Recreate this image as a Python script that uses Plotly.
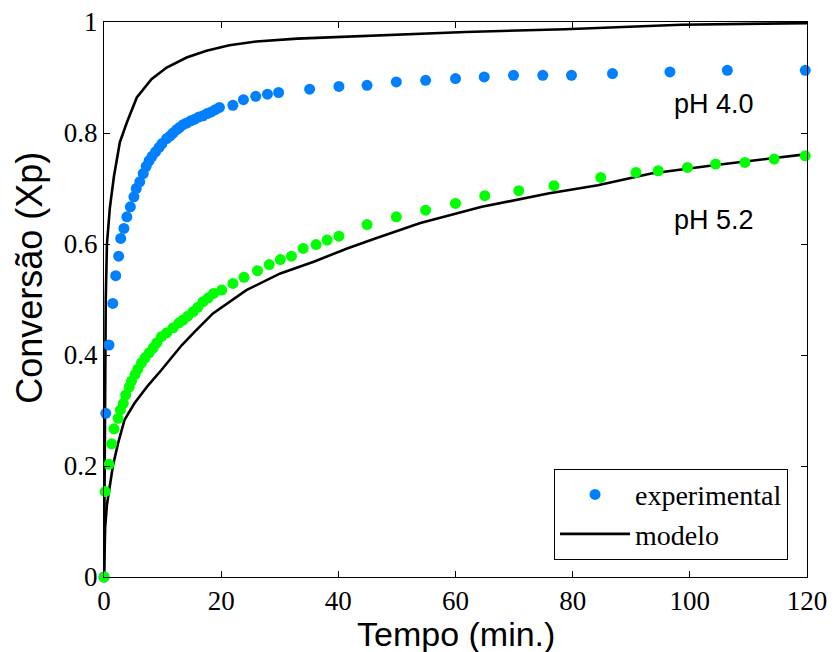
import plotly.graph_objects as go

# ---- data ----
t_ph40 = [0, 0.3, 0.85, 1.5, 2.0, 2.5, 2.85, 3.4, 3.9, 4.5, 5.1, 5.5, 6.1, 6.7, 7.2, 7.7, 8.2, 8.8,
          9.4, 9.9, 10.7, 11.3, 11.8, 12.4, 12.9, 13.5, 14.1, 14.8, 15.5, 16.2, 16.9, 17.6, 18.3,
          19.0, 19.7, 22.0, 23.8, 25.9, 27.9, 29.8, 35.1, 40.1, 44.9, 49.9, 54.9, 60.0, 64.9,
          69.9, 74.9, 79.8, 86.8, 96.6, 106.4, 119.7]
x_ph40 = [0, 0.295, 0.418, 0.493, 0.543, 0.578, 0.610, 0.628, 0.649, 0.667, 0.685, 0.700, 0.712,
          0.727, 0.740, 0.750, 0.758, 0.766, 0.774, 0.781, 0.790, 0.795, 0.800, 0.806, 0.810,
          0.815, 0.818, 0.822, 0.825, 0.829, 0.831, 0.835, 0.838, 0.842, 0.846, 0.850, 0.860,
          0.866, 0.870, 0.873, 0.879, 0.884, 0.886, 0.892, 0.895, 0.898, 0.901, 0.904, 0.904,
          0.904, 0.907, 0.910, 0.913, 0.913]

t_ph52 = [0, 0.2, 0.85, 1.3, 1.7, 2.4, 2.8, 3.3, 3.7, 4.3, 4.7, 5.3, 5.8, 6.4, 7.0, 7.7, 8.4, 9.0,
          9.8, 10.7, 11.8, 12.8, 13.5, 14.3, 15.2, 16.0, 16.9, 17.8, 18.7, 20.1, 22.0, 23.9,
          26.2, 28.2, 30.1, 32.0, 34.0, 36.2, 38.1, 40.1, 44.9, 49.9, 54.9, 60.0, 65.0, 70.8,
          76.8, 84.8, 90.8, 94.6, 99.6, 104.4, 109.4, 114.4, 119.7]
x_ph52 = [0, 0.154, 0.203, 0.240, 0.267, 0.286, 0.301, 0.313, 0.328, 0.342, 0.353, 0.365, 0.375,
          0.386, 0.395, 0.404, 0.413, 0.422, 0.433, 0.440, 0.449, 0.458, 0.463, 0.470, 0.478,
          0.486, 0.496, 0.503, 0.511, 0.517, 0.529, 0.540, 0.552, 0.563, 0.572, 0.578, 0.592,
          0.599, 0.607, 0.614, 0.635, 0.649, 0.661, 0.673, 0.687, 0.696, 0.705, 0.720, 0.729,
          0.732, 0.738, 0.744, 0.747, 0.753, 0.759]

tm_ph40 = [0, 0.15, 0.3, 0.5, 0.75, 1.0, 1.7, 2.7, 3.9, 5.6, 8.1, 10.7, 14.1, 17.5, 21.4, 26.0,
           33.0, 47.5, 61.7, 78.7, 90.0, 98.5, 112.7, 120]
xm_ph40 = [0, 0.30, 0.50, 0.60, 0.64, 0.665, 0.722, 0.783, 0.819, 0.864, 0.897, 0.918, 0.936,
           0.948, 0.958, 0.965, 0.970, 0.976, 0.982, 0.987, 0.992, 0.995, 0.997, 0.998]

tm_ph52 = [0, 0.2, 0.5, 0.8, 1.5, 2.4, 3.5, 5.2, 7.5, 9.8, 13.3, 15.5, 18.6, 24.3, 30.1, 35.8,
           41.5, 46.3, 54.0, 64.5, 75.8, 84.3, 93.4, 104.1, 112.7, 120]
xm_ph52 = [0, 0.09, 0.13, 0.15, 0.199, 0.241, 0.283, 0.313, 0.345, 0.373, 0.418, 0.442, 0.475,
           0.517, 0.547, 0.568, 0.592, 0.610, 0.638, 0.667, 0.691, 0.706, 0.727, 0.742, 0.753,
           0.762]

x_ticks = [0, 20, 40, 60, 80, 100, 120]
y_ticks = [0, 0.2, 0.4, 0.6, 0.8, 1.0]
y_tick_text = ["0", "0.2", "0.4", "0.6", "0.8", "1"]

BLUE = "#0080FF"
GREEN = "#00FF00"
SERIF = "Liberation Serif, Times New Roman, serif"
SANS = "Liberation Sans, Arial, sans-serif"

fig = go.Figure()
fig.add_trace(go.Scatter(x=tm_ph40, y=xm_ph40, mode="lines", line=dict(color="black", width=2.6),
                         name="modelo", showlegend=False))
fig.add_trace(go.Scatter(x=tm_ph52, y=xm_ph52, mode="lines", line=dict(color="black", width=2.6),
                         name="modelo", showlegend=False))
fig.add_trace(go.Scatter(x=t_ph40, y=x_ph40, mode="markers", cliponaxis=False,
                         marker=dict(color=BLUE, size=11, line=dict(width=0)),
                         name="experimental", showlegend=True))
fig.add_trace(go.Scatter(x=t_ph52, y=x_ph52, mode="markers", cliponaxis=False,
                         marker=dict(color=GREEN, size=11, line=dict(width=0)),
                         name="pH 5.2", showlegend=False))
# legend-only entry for the model line
fig.add_trace(go.Scatter(x=[None], y=[None], mode="lines", line=dict(color="black", width=2.6),
                         name="modelo", showlegend=True))

fig.add_annotation(x=104.2, y=0.852, text="pH 4.0", showarrow=False,
                   font=dict(family=SANS, size=27, color="black"))
fig.add_annotation(x=104.2, y=0.643, text="pH 5.2", showarrow=False,
                   font=dict(family=SANS, size=27, color="black"))

# axis titles
fig.add_annotation(xref="paper", yref="paper", x=0.5, y=-0.103, xanchor="center", yanchor="middle",
                   text="Tempo (min.)", showarrow=False,
                   font=dict(family=SANS, size=34, color="black"))
fig.add_annotation(xref="paper", yref="paper", x=0, xshift=-74, y=0.539, xanchor="center",
                   yanchor="middle", text="Conversão (Xp)", textangle=-90, showarrow=False,
                   font=dict(family=SANS, size=36, color="black"))

axis_common = dict(showgrid=False, zeroline=False, showline=True, linecolor="black", linewidth=1,
                   mirror="ticks", ticks="inside", ticklen=6, tickcolor="black", automargin=False,
                   ticklabeloverflow="allow",
                   tickfont=dict(family=SERIF, size=27, color="black"))

fig.update_xaxes(range=[0, 120], tickvals=x_ticks, ticktext=[str(v) for v in x_ticks],
                 **axis_common)
fig.update_yaxes(range=[0, 1], tickvals=y_ticks, ticktext=y_tick_text, **axis_common)

# the page body adds an 8px margin, so the figure is 8px smaller and margins compensate
fig.update_layout(
    width=830, height=644,
    margin=dict(l=96, r=31, t=14, b=75, autoexpand=False),
    plot_bgcolor="white", paper_bgcolor="white",
    legend=dict(x=0.973, xanchor="right", y=0.195, yanchor="top",
                bgcolor="white", bordercolor="black", borderwidth=1,
                font=dict(family=SERIF, size=28, color="black"),
                itemwidth=70, tracegroupgap=0),
)

fig.write_html("out.html")
